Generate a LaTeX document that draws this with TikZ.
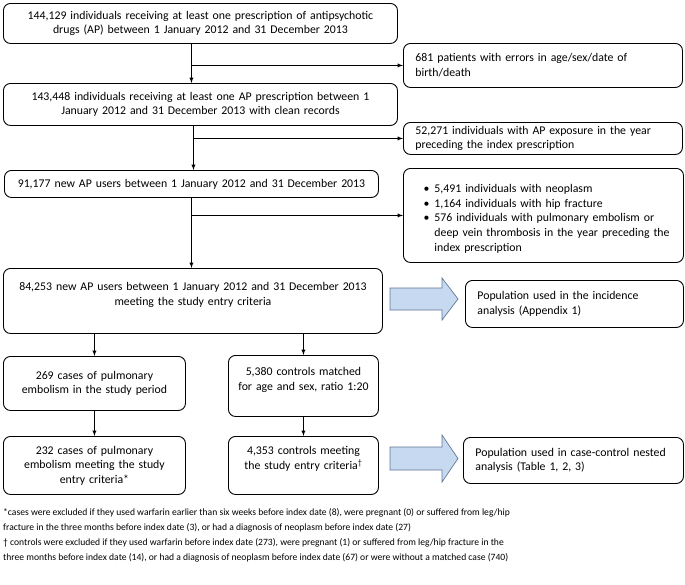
\documentclass[tikz,border=0pt]{standalone}
\usepackage{fontspec}
\setmainfont{Carlito}

\begin{document}
\begin{tikzpicture}[x=1pt,y=-1pt]
% Styles
\tikzstyle{boite}=[draw,rounded corners=7pt,line width=0.9pt,anchor=north west,inner xsep=6pt,inner ysep=2pt,font=\fontsize{11.8}{14.6}\selectfont]
\tikzstyle{centre}=[boite,align=center]
\tikzstyle{gauche}=[boite,align=left,inner xsep=12pt]
\tikzstyle{fleche}=[->,>=latex,line width=0.9pt]
\tikzstyle{grosse}=[draw={rgb,255:red,98;green,120;blue,150},fill={rgb,255:red,198;green,217;blue,241},line width=0.7pt]
\tikzstyle{notes}=[anchor=north west,align=left,inner sep=0pt,font=\fontsize{9.6}{15}\selectfont]
% Cadre
\useasboundingbox (0,0) rectangle (685,584);
% Noeuds
\node[centre,minimum width=394pt,minimum height=40pt,text width=382pt] (A) at (3,3) {144,129 individuals receiving at least one prescription of antipsychotic\\drugs (AP) between 1 January 2012 and 31 December 2013};
\node[gauche,minimum width=279pt,minimum height=44pt,text width=255pt] (E1) at (403,43) {681 patients with errors in age/sex/date of\\birth/death};
\node[centre,minimum width=394pt,minimum height=42pt,text width=382pt] (B) at (3,83) {143,448 individuals receiving at least one AP prescription between 1\\January 2012 and 31 December 2013 with clean records};
\node[gauche,minimum width=279pt,minimum height=32pt,text width=255pt] (E2) at (403,122) {52,271 individuals with AP exposure in the year\\preceding the index prescription};
\node[centre,minimum width=374pt,minimum height=27pt,text width=362pt] (C) at (4,170) {91,177 new AP users between 1 January 2012 and 31 December 2013};
\node[gauche,inner xsep=6pt,minimum width=280pt,minimum height=94pt,text width=268pt] (E3) at (403,168) {%
\begin{list}{\textbullet}{\setlength{\leftmargin}{25pt}\setlength{\rightmargin}{0pt}\setlength{\labelsep}{5pt}\setlength{\labelwidth}{8pt}%
\setlength{\topsep}{0pt}\setlength{\partopsep}{0pt}\setlength{\itemsep}{0pt}\setlength{\parsep}{0pt}}
\item 5,491 individuals with neoplasm
\item 1,164 individuals with hip fracture
\item 576 individuals with pulmonary embolism or\\deep vein thrombosis in the year preceding the\\index prescription
\end{list}};
\node[centre,minimum width=379pt,minimum height=65pt,text width=367pt] (D) at (3,268) {84,253 new AP users between 1 January 2012 and 31 December 2013\\meeting the study entry criteria\\ \mbox{}};
\node[gauche,minimum width=218pt,minimum height=47pt,text width=194pt] (H1) at (465,280) {Population used in the incidence\\analysis (Appendix 1)};
\node[centre,minimum width=182pt,minimum height=54pt,text width=170pt] (F1) at (3,356) {269 cases of pulmonary\\embolism in the study period};
\node[centre,minimum width=150pt,minimum height=61pt,text width=138pt] (G1) at (228,355) {5,380 controls matched\\for age and sex, ratio 1:20\\ \mbox{}};
\node[centre,minimum width=182pt,minimum height=58pt,text width=170pt] (F2) at (3,436) {232 cases of pulmonary\\embolism meeting the study\\entry criteria*};
\node[centre,minimum width=150pt,minimum height=58pt,text width=138pt] (G2) at (228,436) {4,353 controls meeting\\the study entry criteria\textsuperscript{†}\\ \mbox{}};
\node[gauche,minimum width=220pt,minimum height=46pt,text width=196pt] (H2) at (463,437) {Population used in case-control nested\\analysis (Table 1, 2, 3)};
\node[notes] (N) at (3,508) {*cases were excluded if they used warfarin earlier than six weeks before index date (8), were pregnant (0) or suffered from leg/hip\\fracture in the three months before index date (3), or had a diagnosis of neoplasm before index date (27)\\† controls were excluded if they used warfarin before index date (273), were pregnant (1) or suffered from leg/hip fracture in the\\three months before index date (14), or had a diagnosis of neoplasm before index date (67) or were without a matched case (740)};
% Grosses fleches
\draw[grosse] (390,288) -- (442,288) -- (442,278) -- (458,299) -- (442,320) -- (442,310) -- (390,310) -- cycle;
\draw[grosse] (390,447) -- (442,447) -- (442,435) -- (458,458.5) -- (442,482) -- (442,470) -- (390,470) -- cycle;
% Arcs
\coordinate (tA) at ([xshift=-9pt]A.south);
\coordinate (tB) at ([xshift=-7pt]B.south);
\draw[fleche] (tA) -- (tA |- B.north);
\draw[fleche] (tA |- E1.west) -- (E1.west);
\draw[fleche] (tB) -- (tB |- C.north);
\draw[fleche] (tB |- E2.west) -- (E2.west);
\draw[fleche] (C.south) -- (C.south |- D.north);
\draw[fleche] (C.south |- E3.west) -- (E3.west);
\draw[fleche] (F1.north |- D.south) -- (F1.north);
\draw[fleche] (G1.north |- D.south) -- (G1.north);
\draw[fleche] (F1.south) -- (F2.north);
\draw[fleche] (G1.south) -- (G2.north);
\end{tikzpicture}
\end{document}
